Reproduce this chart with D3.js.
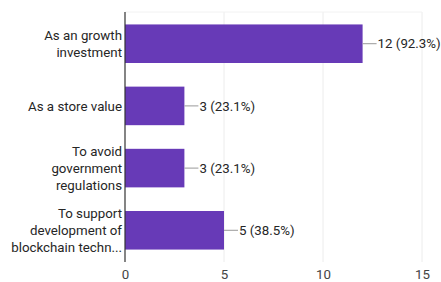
<!DOCTYPE html>
<meta charset="utf-8">
<style>
body { margin: 0; background: #fff; font-family: Roboto, Arial, sans-serif; }
text { fill: #262626; }
.tick text { fill: #444; }
</style>
<body>
<svg id="chart" width="441" height="282"></svg>
<script src="https://d3js.org/d3.v7.min.js"></script>
<script>
var categories = [
  ["As an growth", "investment"],
  ["As a store value"],
  ["To avoid", "government", "regulations"],
  ["To support", "development of", "blockchain techn..."]
];
var counts = [12, 3, 3, 5];
var percents = ["92.3%", "23.1%", "23.1%", "38.5%"];
var xTicks = [0, 5, 10, 15];

var svg = d3.select("#chart"),
    margin = {top: 12, right: 19, bottom: 20, left: 125},
    width = +svg.attr("width") - margin.left - margin.right,
    height = +svg.attr("height") - margin.top - margin.bottom;

var g = svg.append("g")
    .attr("transform", "translate(" + margin.left + "," + margin.top + ")");

var x = d3.scaleLinear().domain([0, 15]).range([0, width]);
var y = d3.scaleBand()
    .domain(d3.range(counts.length))
    .range([0, height])
    .paddingInner(0.38)
    .paddingOuter(0.2);

// gridlines
g.selectAll(".grid")
  .data(xTicks.slice(1))
  .enter().append("line")
    .attr("x1", function(d) { return x(d); })
    .attr("x2", function(d) { return x(d); })
    .attr("y1", 0)
    .attr("y2", height)
    .attr("stroke", "#ececec");
g.append("line")
    .attr("x1", 0).attr("x2", width)
    .attr("y1", 0).attr("y2", 0)
    .attr("stroke", "#f2f2f2");

// bars
g.selectAll(".bar")
  .data(counts)
  .enter().append("rect")
    .attr("x", 0)
    .attr("y", function(d, i) { return y(i); })
    .attr("width", function(d) { return x(d); })
    .attr("height", y.bandwidth())
    .attr("fill", "#673ab7");

// leader lines and value labels
g.selectAll(".lead")
  .data(counts)
  .enter().append("line")
    .attr("x1", function(d) { return x(d); })
    .attr("x2", function(d) { return x(d) + 14; })
    .attr("y1", function(d, i) { return y(i) + y.bandwidth() / 2; })
    .attr("y2", function(d, i) { return y(i) + y.bandwidth() / 2; })
    .attr("stroke", "#999");

g.selectAll(".val")
  .data(counts)
  .enter().append("text")
    .attr("x", function(d) { return x(d) + 15; })
    .attr("y", function(d, i) { return y(i) + y.bandwidth() / 2; })
    .attr("dy", "0.35em")
    .attr("font-size", 13.3)
    .text(function(d, i) { return d + " (" + percents[i] + ")"; });

// category labels
var lineH = 17;
g.selectAll(".cat")
  .data(categories)
  .enter().append("text")
    .attr("text-anchor", "end")
    .attr("font-size", 13.3)
    .each(function(lines, i) {
      var cy = y(i) + y.bandwidth() / 2 - (lines.length - 1) * lineH / 2;
      d3.select(this).selectAll("tspan")
        .data(lines)
        .enter().append("tspan")
          .attr("x", -3)
          .attr("y", function(d, j) { return cy + j * lineH; })
          .attr("dy", "0.35em")
          .text(function(d) { return d; });
    });

// x axis
var xAxis = g.append("g")
    .attr("transform", "translate(0," + height + ")")
    .call(d3.axisBottom(x).tickValues(xTicks).tickSize(0).tickPadding(8));
xAxis.select(".domain").remove();
xAxis.selectAll("text").attr("font-size", 13.3).attr("font-family", "Roboto, Arial, sans-serif");

// baseline axis
g.append("line")
    .attr("x1", 0).attr("x2", 0)
    .attr("y1", 0).attr("y2", height)
    .attr("stroke", "#333")
    .attr("stroke-width", 1.2);
</script>
</body>
